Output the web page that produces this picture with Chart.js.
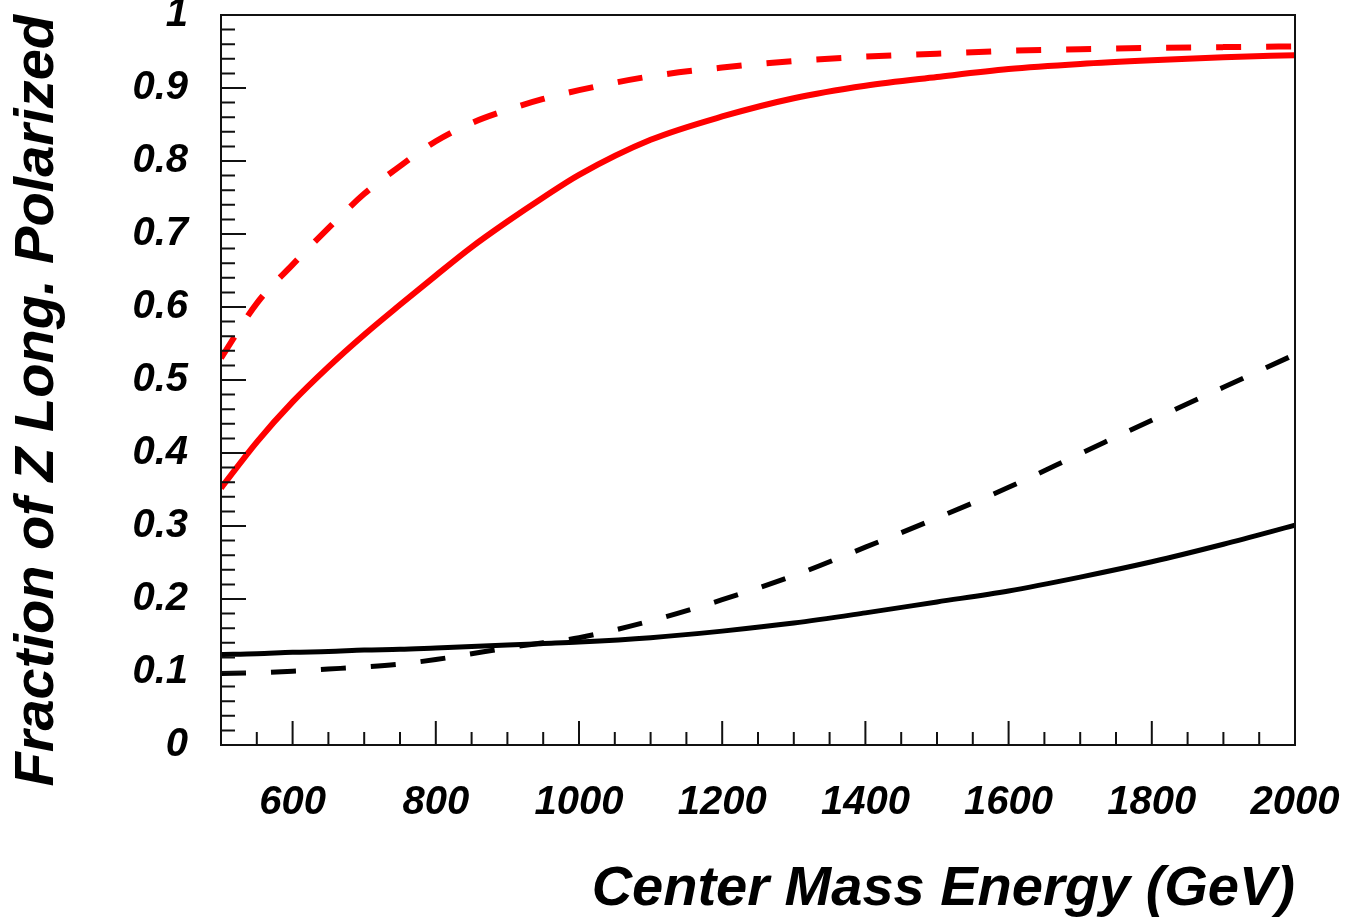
<!DOCTYPE html>
<html>
<head>
<meta charset="utf-8">
<script src="https://cdn.jsdelivr.net/npm/chart.js@4.4.1/dist/chart.umd.min.js"></script>
<style>
  body { margin: 0; background: #fff; }
  #wrap { width: 1348px; height: 918px; position: relative; }
</style>
</head>
<body>
<div id="wrap"><canvas id="polChart"></canvas></div>
<script>
// center mass energy (GeV)
const energy = [500, 550, 600, 650, 700, 750, 800, 850, 900, 950, 1000,
  1100, 1200, 1300, 1400, 1500, 1600, 1700, 1800, 1900, 2000];

// fraction of longitudinally polarized Z
const redSolid = [0.352, 0.415, 0.470, 0.518, 0.562, 0.603, 0.643, 0.682, 0.717, 0.750, 0.781,
  0.829, 0.861, 0.886, 0.903, 0.915, 0.926, 0.933, 0.938, 0.942, 0.945];
const redDashed = [0.530, 0.605, 0.658, 0.708, 0.755, 0.793, 0.827, 0.852, 0.870, 0.885, 0.897,
  0.916, 0.928, 0.937, 0.943, 0.947, 0.951, 0.953, 0.955, 0.956, 0.957];
const blackSolid = [0.124, 0.125, 0.127, 0.128, 0.130, 0.131, 0.133, 0.135, 0.137, 0.139, 0.141,
  0.147, 0.156, 0.167, 0.181, 0.196, 0.211, 0.230, 0.251, 0.275, 0.301];
const blackDashed = [0.098, 0.099, 0.101, 0.104, 0.107, 0.111, 0.117, 0.125, 0.133, 0.140, 0.147,
  0.170, 0.199, 0.232, 0.271, 0.311, 0.353, 0.399, 0.445, 0.490, 0.535];

// tick labels
const xTickValues = [600, 800, 1000, 1200, 1400, 1600, 1800, 2000];
const yTickValues = [0, 0.1, 0.2, 0.3, 0.4, 0.5, 0.6, 0.7, 0.8, 0.9, 1];

const xTitle = "Center Mass Energy (GeV)";
const yTitle = "Fraction of Z Long. Polarized";

const fontFamily = "'Liberation Sans', Arial, Helvetica, sans-serif";

function toPoints(values) {
  return energy.map((e, i) => ({ x: e, y: values[i] }));
}

function makeLine(values, color, width, dashed) {
  return {
    data: toPoints(values),
    borderColor: color,
    borderWidth: width,
    borderDash: dashed ? [25, 25] : [],
    pointRadius: 0,
    fill: false,
    cubicInterpolationMode: "monotone",
  };
}

// ROOT style frame with ticks drawn inside
const frameTicks = {
  id: "frameTicks",
  afterDatasetsDraw(chart) {
    const { ctx, chartArea } = chart;
    const xs = chart.scales.x;
    const ys = chart.scales.y;
    ctx.save();
    ctx.strokeStyle = "#111";
    ctx.lineWidth = 2;
    ctx.strokeRect(chartArea.left, chartArea.top,
      chartArea.right - chartArea.left, chartArea.bottom - chartArea.top);

    ctx.beginPath();
    for (let v = xs.min; v <= xs.max + 0.001; v += 50) {
      const px = xs.getPixelForValue(v);
      const len = (v - 600) % 200 === 0 ? 24 : 13;
      ctx.moveTo(px, chartArea.bottom);
      ctx.lineTo(px, chartArea.bottom - len);
    }
    for (let i = 0; i <= 50; i++) {
      const v = i * 0.02;
      const py = ys.getPixelForValue(v);
      const len = i % 5 === 0 ? 25 : 14;
      ctx.moveTo(chartArea.left, py);
      ctx.lineTo(chartArea.left + len, py);
    }
    ctx.stroke();
    ctx.restore();
  },
};

const ctx = document.getElementById("polChart").getContext("2d");

let polChart = new Chart(ctx, {
  type: "line",
  data: {
    datasets: [
      makeLine(blackDashed, "#000000", 5, true),
      makeLine(blackSolid, "#000000", 5, false),
      makeLine(redDashed, "#ff0000", 6, true),
      makeLine(redSolid, "#ff0000", 6, false),
    ],
  },
  options: {
    responsive: true,
    maintainAspectRatio: false,
    animation: false,
    layout: { padding: { left: 0, top: 15, right: 53, bottom: 0 } },
    scales: {
      x: {
        type: "linear",
        min: 500,
        max: 2000,
        afterBuildTicks: (scale) => {
          scale.ticks = xTickValues.map((v) => ({ value: v }));
        },
        afterFit: (scale) => {
          scale.height = 173;
          scale.paddingLeft = 0;
          scale.paddingRight = 0;
        },
        grid: { display: false, drawTicks: false },
        border: { display: false },
        ticks: {
          autoSkip: false,
          maxRotation: 0,
          padding: 34,
          color: "#000",
          font: { family: fontFamily, size: 40, weight: "bold", style: "italic" },
          callback: (value) => String(value),
        },
        title: {
          display: true,
          text: xTitle,
          align: "end",
          color: "#000",
          padding: { top: 0, bottom: 0 },
          font: { family: fontFamily, size: 56, weight: "bold", style: "italic", lineHeight: 1 },
        },
      },
      y: {
        min: 0,
        max: 1,
        afterBuildTicks: (scale) => {
          scale.ticks = yTickValues.map((v) => ({ value: v }));
        },
        afterFit: (scale) => {
          scale.width = 221;
          scale.paddingTop = 0;
          scale.paddingBottom = 0;
        },
        grid: { display: false, drawTicks: false },
        border: { display: false },
        ticks: {
          padding: 33,
          color: "#000",
          font: { family: fontFamily, size: 40, weight: "bold", style: "italic" },
          callback: (value) => String(Math.round(value * 10) / 10),
        },
        title: {
          display: true,
          text: yTitle,
          align: "end",
          color: "#000",
          padding: { top: 10, bottom: 0 },
          font: { family: fontFamily, size: 56, weight: "bold", style: "italic", lineHeight: 1 },
        },
      },
    },
    plugins: {
      legend: { display: false },
      tooltip: { enabled: false },
    },
  },
  plugins: [frameTicks],
});
</script>
</body>
</html>
